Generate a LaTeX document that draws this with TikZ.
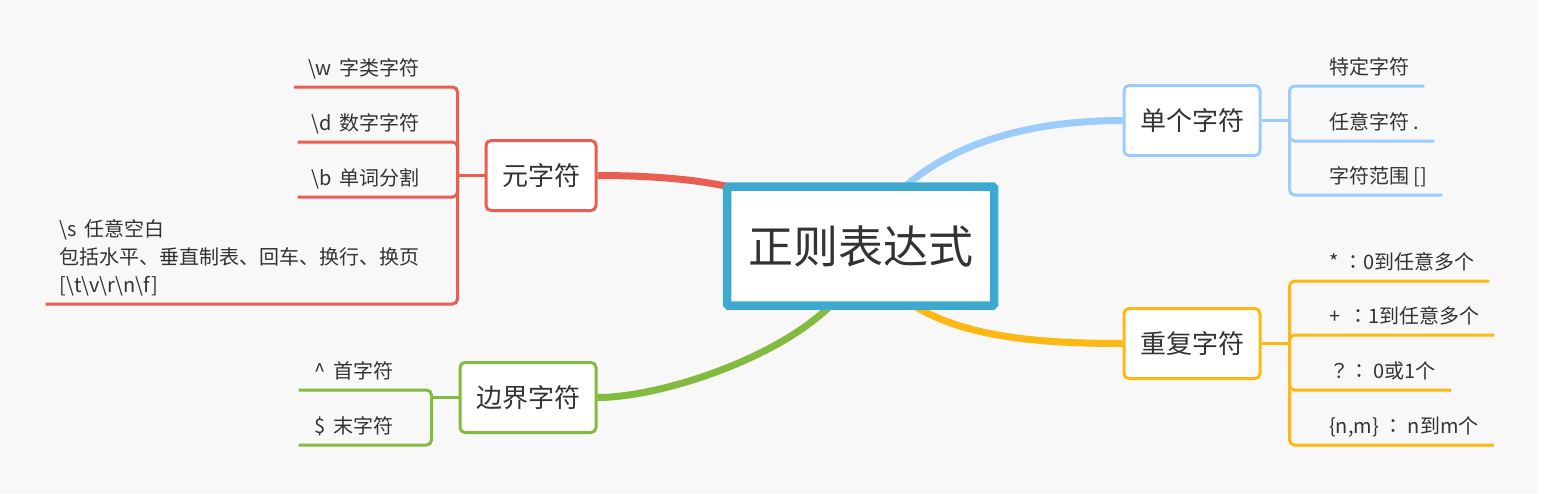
\documentclass[tikz,border=0pt]{standalone}
\usepackage{fontspec}
\setmainfont{Noto Sans CJK SC}
\newfontfamily\tcfont{Noto Sans CJK TC}
\usepackage{xcolor}
\definecolor{canvas}{RGB}{248,248,248}
\definecolor{ink}{RGB}{51,51,51}
\definecolor{rootblue}{RGB}{61,169,207}
\definecolor{metared}{RGB}{233,94,80}
\definecolor{boundgreen}{RGB}{131,187,64}
\definecolor{singleblue}{RGB}{156,204,252}
\definecolor{repyellow}{RGB}{253,184,19}
\pgfdeclarelayer{bg}
\pgfsetlayers{bg,main}
\newcommand{\bsl}{\textbackslash}
\newcommand{\fcolon}{{\tcfont ：}}
\newcommand{\fquest}{{\tcfont ？}}
\tikzset{
  root/.style={
    draw=rootblue, line width=8.5pt, fill=white, rounded corners=1.5pt,
    minimum height=119pt, inner xsep=21pt, text=ink,
    font=\fontsize{45}{54}\selectfont
  },
  topic/.style={
    draw=#1, line width=3pt, fill=white, rounded corners=5pt,
    minimum height=70pt, inner xsep=16pt, text=ink,
    font=\fontsize{26}{31}\selectfont
  },
  leaf/.style={
    inner xsep=0pt, inner ysep=6pt, text height=16pt, text depth=5pt,
    align=left, text=ink, font=\fontsize{20}{28}\selectfont
  },
  branch/.style={draw=#1, line width=7pt},
  twig/.style={draw=#1, line width=3pt, rounded corners=5pt},
}

\begin{document}
\begin{tikzpicture}[x=1pt, y=-1pt]
  \useasboundingbox (0,0) rectangle (1547,493);

  \node[root] (root) at (860.5,246) {正则表达式};

  \node[topic=metared, anchor=east] (meta) at (597.5,175.5) {元字符};
  \node[topic=boundgreen, anchor=east] (bound) at (597.5,397.5) {边界字符};
  \node[topic=singleblue, anchor=west] (single) at (1122.5,120.5) {单个字符};
  \node[topic=repyellow, anchor=west] (rep) at (1122.5,343.5) {重复字符};

  % left leaves
  \node[leaf, anchor=south east] (mw) at (420,87) {\bsl w\ \,字类字符};
  \node[leaf, anchor=south east] (md) at (420,142) {\bsl d\ \,数字字符};
  \node[leaf, anchor=south east] (mb) at (420,197) {\bsl b\ \,单词分割};
  \node[leaf, anchor=south east] (ms) at (420,304)
    {\bsl s\ \,任意空白\\包括水平、垂直制表、回车、换行、换页\\{}[\bsl t\bsl v\bsl r\bsl n\bsl f]};
  \node[leaf, anchor=south east] (bh) at (394,390) {\textasciicircum\ \,首字符};
  \node[leaf, anchor=south east] (bt) at (394,445) {\$\ \,末字符};

  % right leaves
  \node[leaf, anchor=south west] (sa) at (1329,86) {特定字符};
  \node[leaf, anchor=south west] (sb) at (1329,141) {任意字符 .};
  \node[leaf, anchor=south west] (sc) at (1329,195) {字符范围 []};
  \node[leaf, anchor=south west] (ra) at (1329,281) {* \fcolon 0到任意多个};
  \node[leaf, anchor=south west] (rb) at (1329,335) {+ \,\fcolon 1到任意多个};
  \node[leaf, anchor=south west] (rc) at (1329,390) {\fquest\fcolon\ 0或1个};
  \node[leaf, anchor=south west] (rd) at (1329,445) {\{n,m\} \fcolon\ n到m个};

  \begin{pgfonlayer}{bg}
    \fill[canvas] (0,0) rectangle (1538,493);
    \fill[white] (1538,0) rectangle (1547,493);

    \draw[branch=metared] (meta.east) .. controls +(162,0) and +(-60,-36) .. (root.center);
    \draw[branch=boundgreen] (bound.east) .. controls +(82,0) and +(0,84) .. (root.center);
    \draw[branch=singleblue] (single.west) .. controls +(-122,0) and +(40,-86) .. (root.center);
    \draw[branch=repyellow] (rep.west) .. controls +(-122,0) and +(40,84) .. (root.center);

    \draw[twig=metared] (meta.west) -- ++(-27,0) coordinate (mj);
    \foreach \n in {mw,md,mb,ms}
      \draw[twig=metared] (mj) |- ([xshift=-14pt]\n.south west);

    \draw[twig=boundgreen] (bound.west) -- ++(-27,0) coordinate (bj);
    \foreach \n in {bh,bt}
      \draw[twig=boundgreen] (bj) |- ([xshift=-16pt]\n.south west);

    \draw[twig=singleblue] (single.east) -- ++(28,0) coordinate (sj);
    \foreach \n in {sa,sb,sc}
      \draw[twig=singleblue] (sj) |- ([xshift=15pt]\n.south east);

    \draw[twig=repyellow] (rep.east) -- ++(28,0) coordinate (rj);
    \foreach \n in {ra,rb,rc,rd}
      \draw[twig=repyellow] (rj) |- ([xshift=15pt]\n.south east);
  \end{pgfonlayer}
\end{tikzpicture}
\end{document}
